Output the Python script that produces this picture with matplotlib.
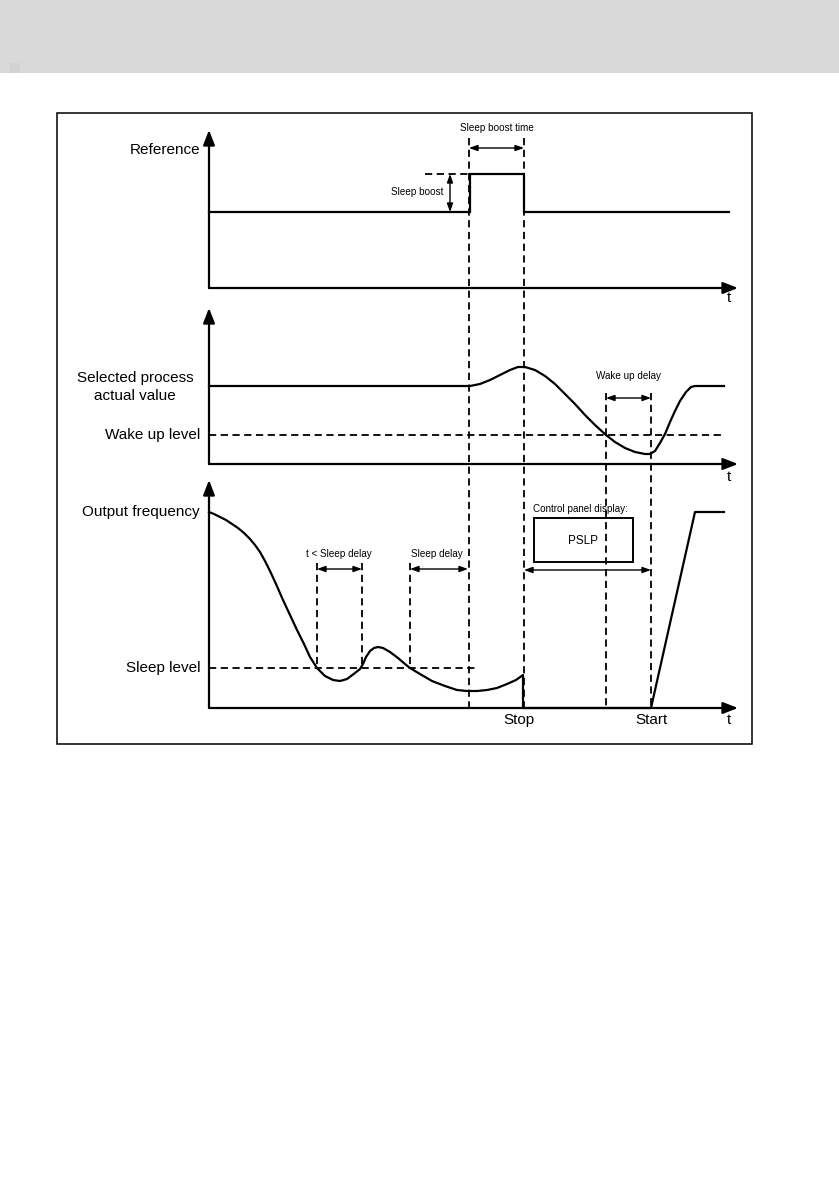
import matplotlib
matplotlib.use("Agg")
import matplotlib.pyplot as plt
from matplotlib.patches import Rectangle

plt.rcParams['font.family'] = ['Liberation Sans', 'DejaVu Sans']

# ---- data (diagram coordinates, pixels, y downward) ----
ref_t = [209, 470, 470, 524, 524, 729]
ref_v = [212, 212, 174, 174, 212, 212]

proc_t = [209, 470, 480, 490, 500, 510, 518, 525, 535, 545, 555, 565, 575, 585, 595, 606,
          615, 625, 635, 645, 650, 655, 660, 665, 670, 675, 680, 686, 691, 695, 724]
proc_v = [386, 386, 384, 380, 375, 370, 367, 367, 370, 376, 384, 394, 404, 415, 425, 435,
          442, 448, 452, 454, 454, 451, 443, 434, 422, 411, 401, 392, 387, 386, 386]

out_t = [209, 214, 220, 226, 232, 238, 244, 250, 255, 260, 265, 270, 276, 283, 290, 297,
         304, 310, 317, 325, 333, 340, 347, 355, 360, 363, 366, 370, 374, 378, 383, 390,
         398, 405, 410, 420, 432, 445, 457, 467, 477, 487, 497, 507, 516, 523, 523, 651,
         695, 724]
out_v = [512, 514, 517, 520, 524, 528, 533, 539, 545, 552, 561, 571, 584, 600, 615, 630,
         644, 657, 668, 676, 680, 681, 679, 673, 669, 664, 657, 651, 648, 647, 648, 652,
         658, 664, 668, 674, 681, 686, 690, 691, 691, 690, 688, 684, 680, 675, 708, 708,
         512, 512]

wake_level = 435
sleep_level = 668
boost_level = 174

fig = plt.figure(figsize=(8.39, 11.91), dpi=100)
ax = fig.add_axes([0, 0, 1, 1])
ax.set_xlim(0, 839)
ax.set_ylim(1191, 0)
ax.axis('off')

# header band
ax.add_patch(Rectangle((0, 0), 839, 73, facecolor='#d9d9d9', edgecolor='none'))
ax.add_patch(Rectangle((10, 63), 10, 10, facecolor='#d2d2d2', edgecolor='none'))
# frame
ax.add_patch(Rectangle((57, 113), 695, 631, facecolor='none', edgecolor='black', lw=1.1))

LW = 1.6
DASH = dict(color='black', lw=1.3, linestyle=(0, (4, 2.5)))

def axis_arrow(x0, y0, x1, y1):
    ax.annotate('', xy=(x1, y1), xytext=(x0, y0),
                arrowprops=dict(arrowstyle='-|>,head_length=0.9,head_width=0.35',
                                color='black', lw=LW, shrinkA=0, shrinkB=0))

def dim_arrow(x0, x1, y, vertical=False):
    if vertical:
        xy, xt = (x0, y[1]), (x0, y[0])
    else:
        xy, xt = (x1, y), (x0, y)
    ax.annotate('', xy=xy, xytext=xt,
                arrowprops=dict(arrowstyle='<|-|>,head_length=0.5,head_width=0.18',
                                color='black', lw=1.0, shrinkA=0, shrinkB=0))

# axes
for (ytop, ybot) in [(130, 288), (308, 464), (480, 708)]:
    axis_arrow(209, ybot, 209, ytop)
    axis_arrow(209, ybot, 738, ybot)

ax.plot(ref_t, ref_v, color='black', lw=LW, solid_joinstyle='miter')
ax.plot(proc_t, proc_v, color='black', lw=LW)
ax.plot(out_t, out_v, color='black', lw=LW)

# dashed guides
ax.plot([469, 469], [138, 708], **DASH)
ax.plot([524, 524], [138, 708], **DASH)
ax.plot([606, 606], [393, 708], **DASH)
ax.plot([651, 651], [393, 708], **DASH)
ax.plot([425, 469], [boost_level, boost_level], **DASH)
ax.plot([209, 725], [wake_level, wake_level], **DASH)
ax.plot([209, 477], [sleep_level, sleep_level], **DASH)
ax.plot([317, 317], [563, sleep_level], **DASH)
ax.plot([362, 362], [563, sleep_level], **DASH)
ax.plot([410, 410], [563, sleep_level], **DASH)

# dimension arrows
dim_arrow(469, 524, 148)
dim_arrow(450, None, (212, 174), vertical=True)
dim_arrow(606, 651, 398)
dim_arrow(317, 362, 569)
dim_arrow(410, 468, 569)
dim_arrow(524, 651, 570)

# PSLP box (unfilled, the guide line shows through)
ax.add_patch(Rectangle((534, 518), 99, 44, facecolor='none', edgecolor='black', lw=1.4))
ax.text(583, 541, 'PSLP', ha='center', va='center', fontsize=8.5)

BIG = 11
SMALL = 7.1
ax.text(200, 150, 'Reference', ha='right', va='center', fontsize=BIG)
ax.text(135, 378, 'Selected process', ha='center', va='center', fontsize=BIG)
ax.text(135, 396, 'actual value', ha='center', va='center', fontsize=BIG)
ax.text(200, 435, 'Wake up level', ha='right', va='center', fontsize=BIG)
ax.text(200, 512, 'Output frequency', ha='right', va='center', fontsize=BIG)
ax.text(200, 668, 'Sleep level', ha='right', va='center', fontsize=BIG)
ax.text(519, 720, 'Stop', ha='center', va='center', fontsize=BIG)
ax.text(651, 720, 'Start', ha='center', va='center', fontsize=BIG)
for yy in (298, 477, 720):
    ax.text(729, yy, 't', ha='center', va='center', fontsize=BIG)

ax.text(497, 128, 'Sleep boost time', ha='center', va='center', fontsize=SMALL)
ax.text(417, 192, 'Sleep boost', ha='center', va='center', fontsize=SMALL)
ax.text(628, 376, 'Wake up delay', ha='center', va='center', fontsize=SMALL)
ax.text(339, 554, 't < Sleep delay', ha='center', va='center', fontsize=SMALL)
ax.text(437, 554, 'Sleep delay', ha='center', va='center', fontsize=SMALL)
ax.text(533, 509, 'Control panel display:', ha='left', va='center', fontsize=SMALL)

fig.savefig('out.png', dpi=100)
